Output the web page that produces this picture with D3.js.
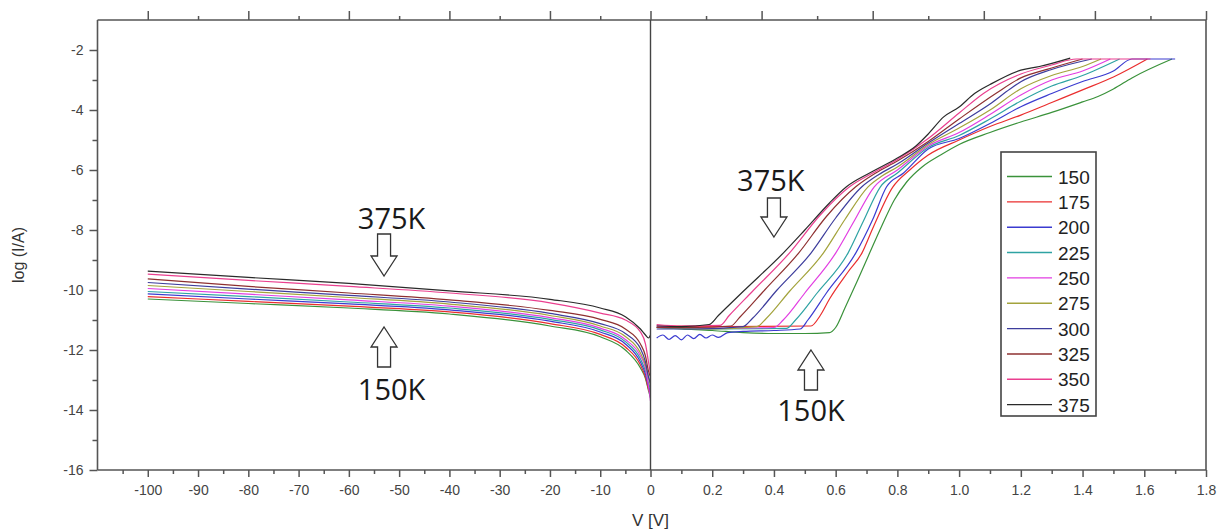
<!DOCTYPE html>
<html>
<head>
<meta charset="utf-8">
<script src="https://cdn.jsdelivr.net/npm/d3@7"></script>
<style>
  html, body { margin: 0; padding: 0; background: #fff; }
  svg { display: block; }
</style>
</head>
<body>
<div class="chart"></div>
<script>
// ---- data ----
const temps = [150, 175, 200, 225, 250, 275, 300, 325, 350, 375];

// reverse bias: shared voltages, one log(I) array per temperature
const leftV = [-100, -80, -60, -40, -20, -10, -5, -2, -1, -0.4, 0];
const left150 = [-10.30, -10.45, -10.60, -10.80, -11.20, -11.56, -12.00, -12.60, -12.95, -13.35, -13.60];
const left175 = [-10.22, -10.38, -10.54, -10.73, -11.12, -11.48, -11.90, -12.50, -12.90, -13.30, -13.50];
const left200 = [-10.13, -10.30, -10.46, -10.66, -11.04, -11.40, -11.80, -12.40, -12.80, -13.20, -13.40];
const left225 = [-10.05, -10.22, -10.40, -10.60, -10.98, -11.33, -11.72, -12.30, -12.70, -13.10, -13.30];
const left250 = [-9.95, -10.14, -10.33, -10.54, -10.92, -11.27, -11.65, -12.20, -12.60, -13.20, -13.70];
const left275 = [-9.85, -10.05, -10.25, -10.47, -10.85, -11.20, -11.55, -12.10, -12.50, -12.90, -13.20];
const left300 = [-9.75, -9.97, -10.18, -10.40, -10.78, -11.12, -11.45, -11.95, -12.40, -12.90, -13.10];
const left325 = [-9.63, -9.88, -10.10, -10.33, -10.68, -10.98, -11.30, -11.80, -12.20, -12.70, -12.90];
const left350 = [-9.47, -9.68, -9.88, -10.10, -10.43, -10.77, -11.00, -11.40, -11.80, -12.40, -12.80];
const left375 = [-9.37, -9.58, -9.78, -10.03, -10.31, -10.60, -10.89, -11.30, -11.50, -11.60, -11.50];

// forward bias: [V, log(I)] points per temperature
const right150 = [[0.02,-11.25],[0.1,-11.3],[0.2,-11.35],[0.3,-11.42],[0.4,-11.45],[0.5,-11.45],[0.58,-11.42],[0.6,-11.25],[0.63,-10.6],[0.67,-9.7],[0.71,-8.77],[0.75,-7.85],[0.79,-7.0],[0.83,-6.4],[0.88,-5.9],[0.94,-5.5],[1.0,-5.15],[1.1,-4.75],[1.2,-4.4],[1.3,-4.08],[1.4,-3.73],[1.45,-3.55],[1.5,-3.3],[1.56,-2.93],[1.69,-2.3]];
const right175 = [[0.02,-11.2],[0.25,-11.22],[0.52,-11.2],[0.55,-10.85],[0.58,-10.3],[0.64,-9.4],[0.685,-8.77],[0.72,-7.95],[0.785,-6.57],[0.84,-6.0],[0.9,-5.5],[1.0,-5.0],[1.1,-4.55],[1.2,-4.17],[1.3,-3.75],[1.4,-3.33],[1.5,-2.9],[1.61,-2.3]];
const right200 = [[0.02,-11.6],[0.04,-11.5],[0.06,-11.65],[0.08,-11.52],[0.1,-11.66],[0.12,-11.5],[0.14,-11.62],[0.16,-11.48],[0.18,-11.6],[0.2,-11.5],[0.22,-11.58],[0.25,-11.42],[0.3,-11.38],[0.4,-11.35],[0.485,-11.3],[0.51,-11.0],[0.57,-10.1],[0.665,-8.77],[0.72,-7.65],[0.765,-6.56],[0.82,-6.1],[0.9,-5.3],[1.0,-4.95],[1.1,-4.45],[1.2,-3.89],[1.3,-3.45],[1.4,-3.05],[1.5,-2.7],[1.56,-2.3],[1.7,-2.3]];
const right225 = [[0.02,-11.25],[0.2,-11.3],[0.44,-11.28],[0.47,-11.0],[0.54,-10.1],[0.64,-8.77],[0.69,-7.7],[0.745,-6.56],[0.8,-6.1],[0.9,-5.25],[1.0,-4.85],[1.1,-4.3],[1.2,-3.7],[1.3,-3.2],[1.4,-2.85],[1.52,-2.3]];
const right250 = [[0.02,-11.2],[0.2,-11.28],[0.4,-11.25],[0.43,-11.0],[0.5,-10.1],[0.6,-8.77],[0.66,-7.7],[0.725,-6.56],[0.8,-6.0],[0.9,-5.2],[1.0,-4.75],[1.1,-4.15],[1.2,-3.5],[1.3,-3.0],[1.4,-2.7],[1.49,-2.3]];
const right275 = [[0.02,-11.25],[0.2,-11.3],[0.345,-11.22],[0.375,-10.95],[0.45,-10.05],[0.56,-8.77],[0.63,-7.65],[0.705,-6.56],[0.75,-6.2],[0.8,-5.9],[0.9,-5.15],[1.0,-4.6],[1.1,-4.0],[1.2,-3.29],[1.3,-2.85],[1.4,-2.55],[1.46,-2.3]];
const right300 = [[0.02,-11.3],[0.15,-11.3],[0.3,-11.22],[0.33,-10.95],[0.41,-10.0],[0.52,-8.77],[0.6,-7.6],[0.685,-6.56],[0.74,-6.15],[0.8,-5.8],[0.9,-5.1],[1.0,-4.45],[1.1,-3.8],[1.165,-3.3],[1.2,-3.06],[1.3,-2.65],[1.43,-2.3]];
const right325 = [[0.02,-11.25],[0.15,-11.25],[0.26,-11.2],[0.29,-10.9],[0.37,-10.0],[0.48,-8.77],[0.57,-7.55],[0.665,-6.56],[0.73,-6.1],[0.8,-5.7],[0.9,-5.05],[1.0,-4.3],[1.12,-3.44],[1.2,-2.93],[1.3,-2.6],[1.4,-2.3]];
const right350 = [[0.02,-11.15],[0.1,-11.2],[0.225,-11.18],[0.255,-10.85],[0.33,-10.05],[0.45,-8.77],[0.55,-7.5],[0.645,-6.56],[0.72,-6.1],[0.8,-5.65],[0.9,-4.95],[1.0,-4.1],[1.08,-3.44],[1.2,-2.8],[1.3,-2.5],[1.38,-2.3],[1.62,-2.3]];
const right375 = [[0.02,-11.2],[0.1,-11.22],[0.19,-11.15],[0.22,-10.85],[0.3,-10.05],[0.43,-8.77],[0.5,-8.0],[0.58,-7.1],[0.635,-6.56],[0.71,-6.1],[0.8,-5.6],[0.86,-5.2],[0.9,-4.8],[0.95,-4.23],[1.0,-3.9],[1.05,-3.45],[1.1,-3.15],[1.2,-2.67],[1.26,-2.55],[1.36,-2.27]];

// tick values
const leftTicks = [-100, -90, -80, -70, -60, -50, -40, -30, -20, -10, 0];
const rightTicks = [0.2, 0.4, 0.6, 0.8, 1.0, 1.2, 1.4, 1.6, 1.8];
const yTicks = [-16, -14, -12, -10, -8, -6, -4, -2];

// styles
const colors = ["#3a923a", "#ea2e2e", "#3b3bd0", "#2ea3a3", "#e23ee2", "#a3a33c", "#3d3d9c", "#8e3030", "#ea3f8f", "#2a2a2a"];
const leftSeries = [left150, left175, left200, left225, left250, left275, left300, left325, left350, left375];
const rightSeries = [right150, right175, right200, right225, right250, right275, right300, right325, right350, right375];

// ---- layout ----
const W = 1219, H = 530;
const plot = {left: 97.5, right: 1206, top: 20, bottom: 470, zero: 650.5};
const axisColor = "#555";

const svg = d3.select(".chart").append("svg")
    .attr("width", W)
    .attr("height", H);

// scales: split x axis, reverse bias on the left, forward on the right
const xL = d3.scaleLinear().domain([-110, 0]).range([plot.left, plot.zero]);
const xR = d3.scaleLinear().domain([0, 1.8]).range([plot.zero, plot.right]);
const y = d3.scaleLinear().domain([-16, -1]).range([plot.bottom, plot.top]);

// curves
const lineL = d3.line().x((d, i) => xL(leftV[i])).y(d => y(d)).curve(d3.curveMonotoneX);
const lineR = d3.line().x(d => xR(d[0])).y(d => y(d[1])).curve(d3.curveMonotoneX);

const curves = svg.append("g").attr("fill", "none").attr("stroke-width", 1.2);
leftSeries.forEach((s, i) => {
    curves.append("path").attr("d", lineL(s)).attr("stroke", colors[i]);
});
rightSeries.forEach((s, i) => {
    curves.append("path").attr("d", lineR(s)).attr("stroke", colors[i]);
});

// axes
function styleAxis(g) {
    g.selectAll(".domain").remove();
    g.selectAll("line").attr("stroke", axisColor).attr("stroke-width", 1.5);
    g.selectAll("text").attr("fill", "#444")
        .style("font-family", "'Liberation Sans', Arial, sans-serif")
        .style("font-size", "14px");
}

// bottom: labelled majors
svg.append("g")
    .attr("transform", `translate(0,${plot.bottom})`)
    .call(d3.axisBottom(xL).tickValues(leftTicks).tickSize(7).tickPadding(8)
        .tickFormat(d => d))
    .call(styleAxis);
svg.append("g")
    .attr("transform", `translate(0,${plot.bottom})`)
    .call(d3.axisBottom(xL).tickValues(d3.range(-105, 0, 10)).tickSize(4).tickFormat(""))
    .call(styleAxis);
svg.append("g")
    .attr("transform", `translate(0,${plot.bottom})`)
    .call(d3.axisBottom(xR).tickValues(rightTicks).tickSize(7).tickPadding(8)
        .tickFormat(d3.format(".1f")))
    .call(styleAxis);
svg.append("g")
    .attr("transform", `translate(0,${plot.bottom})`)
    .call(d3.axisBottom(xR).tickValues(d3.range(0.1, 1.8, 0.2)).tickSize(4).tickFormat(""))
    .call(styleAxis);

// top: unlabelled ticks pointing outward
const xTopR = d3.scaleLinear().domain([0, 10]).range([plot.zero, plot.right]);
svg.append("g")
    .attr("transform", `translate(0,${plot.top})`)
    .call(d3.axisTop(xL).tickValues([-100, -80, -60, -40, -20]).tickSize(9).tickFormat(""))
    .call(styleAxis);
svg.append("g")
    .attr("transform", `translate(0,${plot.top})`)
    .call(d3.axisTop(xL).tickValues([-90, -70, -50, -30, -10]).tickSize(4).tickFormat(""))
    .call(styleAxis);
svg.append("g")
    .attr("transform", `translate(0,${plot.top})`)
    .call(d3.axisTop(xTopR).tickValues([0, 2, 4, 6, 8, 10]).tickSize(9).tickFormat(""))
    .call(styleAxis);
svg.append("g")
    .attr("transform", `translate(0,${plot.top})`)
    .call(d3.axisTop(xTopR).tickValues([1, 3, 5, 7, 9]).tickSize(4).tickFormat(""))
    .call(styleAxis);

// left y axis
svg.append("g")
    .attr("transform", `translate(${plot.left},0)`)
    .call(d3.axisLeft(y).tickValues(yTicks).tickSize(8).tickPadding(6).tickFormat(d => d))
    .call(styleAxis);
svg.append("g")
    .attr("transform", `translate(${plot.left},0)`)
    .call(d3.axisLeft(y).tickValues(d3.range(-15, -1, 2)).tickSize(5).tickFormat(""))
    .call(styleAxis);

// frame and zero line
const frame = svg.append("g").attr("stroke", axisColor).attr("stroke-width", 1.6).attr("fill", "none");
frame.append("line").attr("x1", plot.left).attr("x2", plot.left).attr("y1", plot.top).attr("y2", plot.bottom);
frame.append("line").attr("x1", plot.right).attr("x2", plot.right).attr("y1", plot.top).attr("y2", plot.bottom);
frame.append("line").attr("x1", plot.left).attr("x2", plot.right).attr("y1", plot.top).attr("y2", plot.top);
frame.append("line").attr("x1", plot.left).attr("x2", plot.right).attr("y1", plot.bottom).attr("y2", plot.bottom);
frame.append("line").attr("x1", xL(0)).attr("x2", xL(0)).attr("y1", plot.top).attr("y2", plot.bottom)
    .attr("stroke", "#444").attr("stroke-width", 1.4);

// axis titles
svg.append("text")
    .attr("x", xL(0)).attr("y", 526)
    .attr("text-anchor", "middle")
    .style("font-family", "'Liberation Sans', Arial, sans-serif")
    .style("font-size", "17px").attr("fill", "#333")
    .text("V [V]");
svg.append("text")
    .attr("transform", `translate(24,255) rotate(-90)`)
    .attr("text-anchor", "middle")
    .style("font-family", "'Liberation Sans', Arial, sans-serif")
    .style("font-size", "16px").attr("fill", "#333")
    .text("log (I/A)");

// annotations: hollow arrows with temperature labels
function arrow(cx, top, bottom, up) {
    const hw = 13, sw = 6.5, head = 20;
    let pts;
    if (up) {
        pts = [[cx, top], [cx + hw, top + head], [cx + sw, top + head], [cx + sw, bottom],
               [cx - sw, bottom], [cx - sw, top + head], [cx - hw, top + head]];
    } else {
        pts = [[cx, bottom], [cx + hw, bottom - head], [cx + sw, bottom - head], [cx + sw, top],
               [cx - sw, top], [cx - sw, bottom - head], [cx - hw, bottom - head]];
    }
    svg.append("polygon")
        .attr("points", pts.map(p => p.join(",")).join(" "))
        .attr("fill", "#fff").attr("stroke", "#333").attr("stroke-width", 1.3);
}
function label(x, yy, txt) {
    svg.append("text")
        .attr("x", x).attr("y", yy)
        .attr("text-anchor", "middle")
        .style("font-family", "'Open Sans', 'Noto Sans', sans-serif")
        .style("font-size", "29px").attr("fill", "#1a1a1a")
        .text(txt);
}
label(xL(-51.5), 229, "375K");
arrow(xL(-53), 234, 276, false);
arrow(xL(-53), 327, 367, true);
label(xL(-51.5), 400, "150K");

label(xR(0.39), 191, "375K");
arrow(xR(0.4), 198, 237, false);
arrow(xR(0.52), 350, 390, true);
label(xR(0.52), 421, "150K");

// legend
const lg = {x: 1001, y: 152, w: 95, h: 264, step: 25.35};
const legend = svg.append("g");
legend.append("rect")
    .attr("x", lg.x).attr("y", lg.y).attr("width", lg.w).attr("height", lg.h)
    .attr("fill", "#fff").attr("stroke", "#444").attr("stroke-width", 1.6);
temps.forEach((t, i) => {
    const yy = lg.y + 24.5 + i * lg.step;
    legend.append("line")
        .attr("x1", lg.x + 6).attr("x2", lg.x + 51).attr("y1", yy).attr("y2", yy)
        .attr("stroke", colors[i]).attr("stroke-width", 1.4);
    legend.append("text")
        .attr("x", lg.x + 57).attr("y", yy + 7)
        .style("font-family", "'Liberation Sans', Arial, sans-serif")
        .style("font-size", "19px").attr("fill", "#222")
        .text(t);
});
</script>
</body>
</html>
